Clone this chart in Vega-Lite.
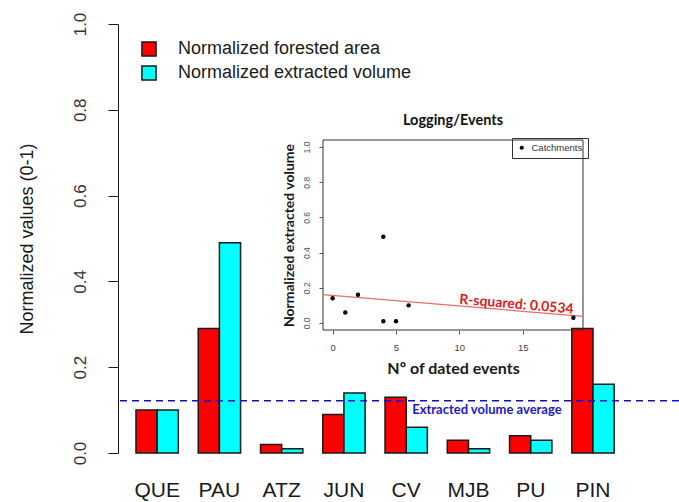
{
  "$schema": "https://vega.github.io/schema/vega-lite/v6.json",
  "width": 561,
  "height": 429,
  "autosize": {"type": "none"},
  "padding": {"left": 118, "top": 24, "right": 0, "bottom": 49},
  "background": "white",
  "config": {
    "view": {"stroke": null},
    "font": "Liberation Sans"
  },
  "datasets": {
    "bars": [
      {"site": "QUE", "series": "Normalized forested area", "value": 0.10},
      {"site": "QUE", "series": "Normalized extracted volume", "value": 0.10},
      {"site": "PAU", "series": "Normalized forested area", "value": 0.29},
      {"site": "PAU", "series": "Normalized extracted volume", "value": 0.49},
      {"site": "ATZ", "series": "Normalized forested area", "value": 0.02},
      {"site": "ATZ", "series": "Normalized extracted volume", "value": 0.01},
      {"site": "JUN", "series": "Normalized forested area", "value": 0.09},
      {"site": "JUN", "series": "Normalized extracted volume", "value": 0.14},
      {"site": "CV", "series": "Normalized forested area", "value": 0.13},
      {"site": "CV", "series": "Normalized extracted volume", "value": 0.06},
      {"site": "MJB", "series": "Normalized forested area", "value": 0.03},
      {"site": "MJB", "series": "Normalized extracted volume", "value": 0.01},
      {"site": "PU", "series": "Normalized forested area", "value": 0.04},
      {"site": "PU", "series": "Normalized extracted volume", "value": 0.03},
      {"site": "PIN", "series": "Normalized forested area", "value": 0.29},
      {"site": "PIN", "series": "Normalized extracted volume", "value": 0.16}
    ],
    "avg": [{"label": "Extracted volume average", "value": 0.122, "site": "CV", "labelValue": 0.10}],
    "events": [
      {"site": "JUN", "events": 0, "volume": 0.14, "kind": "Catchments"},
      {"site": "CV", "events": 1, "volume": 0.06, "kind": "Catchments"},
      {"site": "PIN", "events": 2, "volume": 0.16, "kind": "Catchments"},
      {"site": "PAU", "events": 4, "volume": 0.49, "kind": "Catchments"},
      {"site": "ATZ", "events": 4, "volume": 0.01, "kind": "Catchments"},
      {"site": "MJB", "events": 5, "volume": 0.01, "kind": "Catchments"},
      {"site": "QUE", "events": 6, "volume": 0.10, "kind": "Catchments"},
      {"site": "PU", "events": 19, "volume": 0.03, "kind": "Catchments"}
    ],
    "fit": [
      {"events": -0.76, "volume": 0.161},
      {"events": 19.76, "volume": 0.038}
    ],
    "notes": [
      {"id": "r2", "text": "R-squared: 0.0534", "events": 14.5, "volume": 0.104},
      {"id": "title", "text": "Logging/Events", "events": 9.5, "volume": 1.15}
    ],
    "frame": [{"x0": -0.76, "x1": 19.76, "y0": -0.04, "y1": 1.04}]
  },
  "layer": [
    {
      "layer": [
        {
          "data": {"name": "bars"},
          "mark": {"type": "bar", "stroke": "#1a1a1a", "strokeWidth": 1.5},
          "encoding": {
            "x": {
              "field": "site", "type": "nominal",
              "sort": ["QUE", "PAU", "ATZ", "JUN", "CV", "MJB", "PU", "PIN"],
              "scale": {"domain": ["QUE", "PAU", "ATZ", "JUN", "CV", "MJB", "PU", "PIN"], "paddingInner": 0.32, "paddingOuter": 0.665, "align": 0.217},
              "axis": {
                "title": null, "domain": false, "ticks": false, "tickSize": 0,
                "labelAngle": 0, "labelFontSize": 21, "labelColor": "#1a1a1a",
                "labelPadding": 37, "labelBaseline": "middle", "orient": "bottom"
              }
            },
            "xOffset": {
              "field": "series", "type": "nominal",
              "sort": ["Normalized forested area", "Normalized extracted volume"],
              "scale": {"paddingInner": 0, "paddingOuter": 0}
            },
            "y": {
              "field": "value", "type": "quantitative",
              "scale": {"domain": [0, 1], "nice": false, "zero": true},
              "axis": {
                "orient": "left",
                "title": "Normalized values (0-1)", "titleFontSize": 18, "titleFontWeight": "normal",
                "titleColor": "#1a1a1a", "titlePadding": 35,
                "values": [0, 0.2, 0.4, 0.6, 0.8, 1.0], "format": ".1f",
                "grid": false, "domainColor": "#1a1a1a", "tickColor": "#1a1a1a", "tickSize": 10,
                "labelAngle": 270, "labelAlign": "center", "labelBaseline": "bottom",
                "labelFontSize": 17, "labelColor": "#333333", "labelPadding": 19
              }
            },
            "color": {
              "field": "series", "type": "nominal",
              "sort": ["Normalized forested area", "Normalized extracted volume"],
              "scale": {"domain": ["Normalized forested area", "Normalized extracted volume"], "range": ["#ff0000", "#00ffff"]},
              "legend": {
                "title": null, "orient": "none", "legendX": 22, "legendY": 16,
                "symbolType": "square", "symbolSize": 200, "symbolStrokeColor": "#1a1a1a",
                "symbolStrokeWidth": 1.5, "labelFontSize": 18, "labelColor": "#1a1a1a",
                "labelOffset": 20, "rowPadding": 2, "padding": 0, "labelLimit": 500
              }
            }
          }
        },
        {
          "data": {"name": "avg"},
          "mark": {"type": "rule", "color": "#1010c8", "strokeDash": [7, 5], "strokeWidth": 1.5},
          "encoding": {"y": {"field": "value", "type": "quantitative"}}
        },
        {
          "data": {"name": "avg"},
          "mark": {"type": "text", "color": "#1a1acc", "font": "Lato", "fontWeight": "bold", "fontSize": 13, "align": "left", "baseline": "middle", "dx": 6},
          "encoding": {
            "x": {"field": "site", "type": "nominal", "sort": ["QUE", "PAU", "ATZ", "JUN", "CV", "MJB", "PU", "PIN"]},
            "y": {"field": "labelValue", "type": "quantitative"},
            "text": {"field": "label"}
          }
        }
      ]
    },
    {
      "layer": [
        {
          "data": {"name": "frame"},
          "mark": {"type": "rect", "fill": null, "fillOpacity": 0, "stroke": "#333333", "strokeWidth": 1},
          "encoding": {
            "x": {"field": "x0", "type": "quantitative"},
            "x2": {"field": "x1"},
            "y": {"field": "y0", "type": "quantitative"},
            "y2": {"field": "y1"}
          }
        },
        {
          "data": {"name": "fit"},
          "mark": {"type": "line", "color": "#ee6a6a", "strokeWidth": 1.2},
          "encoding": {
            "x": {"field": "events", "type": "quantitative"},
            "y": {"field": "volume", "type": "quantitative"}
          }
        },
        {
          "data": {"name": "events"},
          "mark": {"type": "point", "filled": true, "color": "#000000", "opacity": 1, "size": 20},
          "encoding": {
            "x": {
              "field": "events", "type": "quantitative",
              "scale": {"domain": [-0.76, 19.76], "range": [205, 465], "nice": false, "zero": false},
              "axis": {
                "orient": "bottom", "offset": -123, "values": [0, 5, 10, 15],
                "domain": false, "grid": false, "tickSize": 4, "tickColor": "#555555",
                "labelFontSize": 9.5, "labelColor": "#444444", "labelPadding": 8,
                "labelOverlap": false, "labelFlush": false, "zindex": 1,
                "title": "Nº of dated events", "titleFont": "Lato", "titleFontWeight": "bold",
                "titleFontSize": 16, "titleColor": "#1a1a1a", "titlePadding": 9
              }
            },
            "y": {
              "field": "volume", "type": "quantitative",
              "scale": {"domain": [-0.04, 1.04], "range": [306, 116], "nice": false, "zero": false},
              "axis": {
                "orient": "left", "offset": -205, "values": [0, 0.2, 0.4, 0.6, 0.8, 1.0], "format": ".1f",
                "domain": false, "grid": false, "tickSize": 4, "tickColor": "#555555",
                "labelAngle": 270, "labelAlign": "center", "labelBaseline": "bottom",
                "labelFontSize": 8.5, "labelColor": "#555555", "labelPadding": 8,
                "labelOverlap": false, "labelFlush": false, "zindex": 1,
                "title": "Normalized extracted volume", "titleFont": "Lato", "titleFontWeight": "bold",
                "titleFontSize": 14, "titleColor": "#1a1a1a", "titlePadding": 6
              }
            },
            "shape": {
              "field": "kind", "type": "nominal",
              "scale": {"range": ["circle"]},
              "legend": {
                "title": null, "orient": "none", "legendX": 394, "legendY": 114,
                "strokeColor": "#333333", "padding": 5, "symbolSize": 18,
                "symbolFillColor": "#000000", "symbolStrokeWidth": 0,
                "labelFontSize": 9.5, "labelColor": "#333333", "labelOffset": 5
              }
            }
          }
        },
        {
          "data": {"name": "notes"},
          "transform": [{"filter": "datum.id === 'r2'"}],
          "mark": {"type": "text", "color": "#e01818", "font": "Lato", "fontWeight": "bold", "fontSize": 14, "angle": 5, "align": "center", "baseline": "middle"},
          "encoding": {
            "x": {"field": "events", "type": "quantitative"},
            "y": {"field": "volume", "type": "quantitative"},
            "text": {"field": "text"}
          }
        },
        {
          "data": {"name": "notes"},
          "transform": [{"filter": "datum.id === 'title'"}],
          "mark": {"type": "text", "color": "#111111", "font": "Lato", "fontWeight": "bold", "fontSize": 14.5, "align": "center", "baseline": "middle"},
          "encoding": {
            "x": {"field": "events", "type": "quantitative"},
            "y": {"field": "volume", "type": "quantitative"},
            "text": {"field": "text"}
          }
        }
      ]
    }
  ],
  "resolve": {"scale": {"x": "independent", "y": "independent"}, "axis": {"x": "independent", "y": "independent"}}
}
